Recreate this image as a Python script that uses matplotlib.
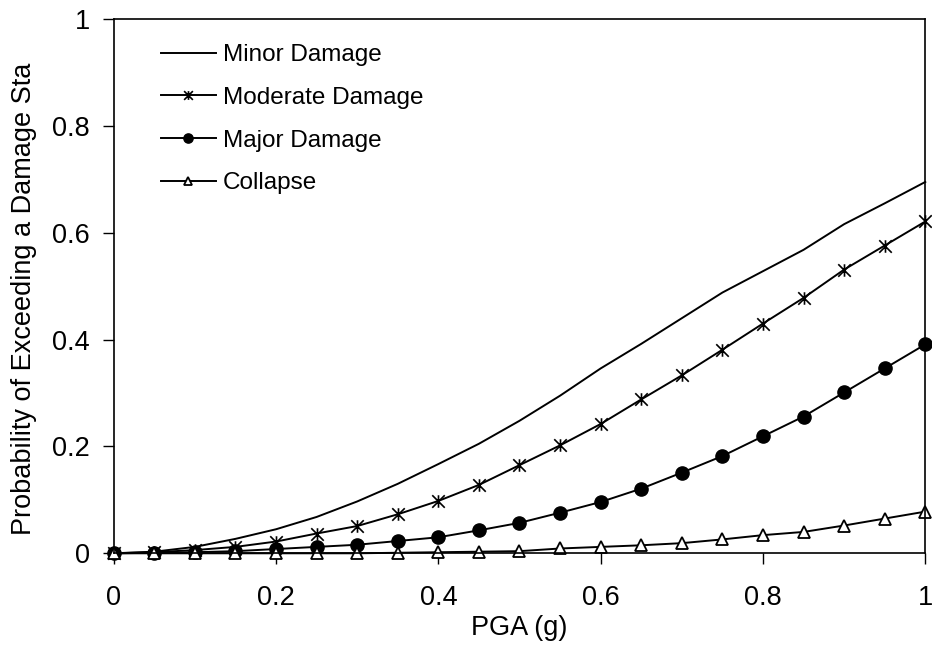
import matplotlib
matplotlib.use("Agg")
import matplotlib.pyplot as plt
from matplotlib.path import Path
from matplotlib.ticker import FuncFormatter

plt.rcParams['font.family'] = ['Liberation Sans', 'DejaVu Sans']

# fragility curves
pga = [0, 0.05, 0.1, 0.15, 0.2, 0.25, 0.3, 0.35, 0.4, 0.45, 0.5,
       0.55, 0.6, 0.65, 0.7, 0.75, 0.8, 0.85, 0.9, 0.95, 1.0]
minor = [0, 0.003, 0.012, 0.027, 0.045, 0.068, 0.097, 0.13, 0.167, 0.205, 0.248,
         0.295, 0.346, 0.392, 0.44, 0.488, 0.528, 0.568, 0.616, 0.655, 0.695]
moderate = [0, 0.002, 0.006, 0.012, 0.022, 0.037, 0.051, 0.073, 0.098, 0.128, 0.165,
            0.202, 0.242, 0.288, 0.333, 0.381, 0.43, 0.478, 0.531, 0.576, 0.621]
major = [0, 0.001, 0.002, 0.004, 0.008, 0.012, 0.016, 0.023, 0.03, 0.043, 0.057,
         0.076, 0.096, 0.121, 0.151, 0.182, 0.219, 0.256, 0.301, 0.346, 0.391]
collapse = [0, 0, 0, 0, 0, 0, 0, 0.001, 0.002, 0.003, 0.004,
            0.009, 0.012, 0.015, 0.019, 0.026, 0.034, 0.04, 0.052, 0.065, 0.078]

labels = ['Minor Damage', 'Moderate Damage', 'Major Damage', 'Collapse']
ticks = [0, 0.2, 0.4, 0.6, 0.8, 1]

# excel style asterisk: an X with a vertical bar through it
star = Path([(-1, -1), (1, 1), (-1, 1), (1, -1), (0, -1), (0, 1)],
            [Path.MOVETO, Path.LINETO] * 3)

fig = plt.figure(figsize=(9.32, 6.46), dpi=100)
ax = fig.add_axes([0.122, 0.1435, 0.8708, 0.8271])

lw = 1.4
ax.plot(pga, minor, color='black', lw=lw, label=labels[0], clip_on=False)
ax.plot(pga, moderate, color='black', lw=lw, marker=star, ms=9, mew=1.2,
        label=labels[1], clip_on=False)
ax.plot(pga, major, color='black', lw=lw, marker='o', ms=9.5, label=labels[2], clip_on=False)
ax.plot(pga, collapse, color='black', lw=lw, marker='^', ms=9, mfc='white', mew=1.3,
        label=labels[3], clip_on=False)

ax.set_xlim(0, 1)
ax.set_ylim(0, 1)
ax.set_xticks(ticks)
ax.set_yticks(ticks)
fmt = FuncFormatter(lambda v, p: '%g' % v)
ax.xaxis.set_major_formatter(fmt)
ax.yaxis.set_major_formatter(fmt)
ax.tick_params(axis='both', direction='out', length=8, width=1, labelsize=19.5)
ax.tick_params(axis='x', pad=15)
ax.tick_params(axis='y', pad=9)
for s in ax.spines.values():
    s.set_linewidth(1.2)

ax.set_xlabel('PGA (g)', fontsize=19.5, labelpad=3)
fig.text(0.026, 1 - 299 / 646, 'Probability of Exceeding a Damage Sta',
         rotation=90, fontsize=19.5, ha='center', va='center')

leg = ax.legend(loc='upper left', bbox_to_anchor=(0.0463, 0.971), frameon=False,
                fontsize=17.5, handlelength=2.26, handletextpad=0.29,
                labelspacing=0.85, markerscale=0.7, borderaxespad=0)

fig.savefig('out.png', dpi=100)
